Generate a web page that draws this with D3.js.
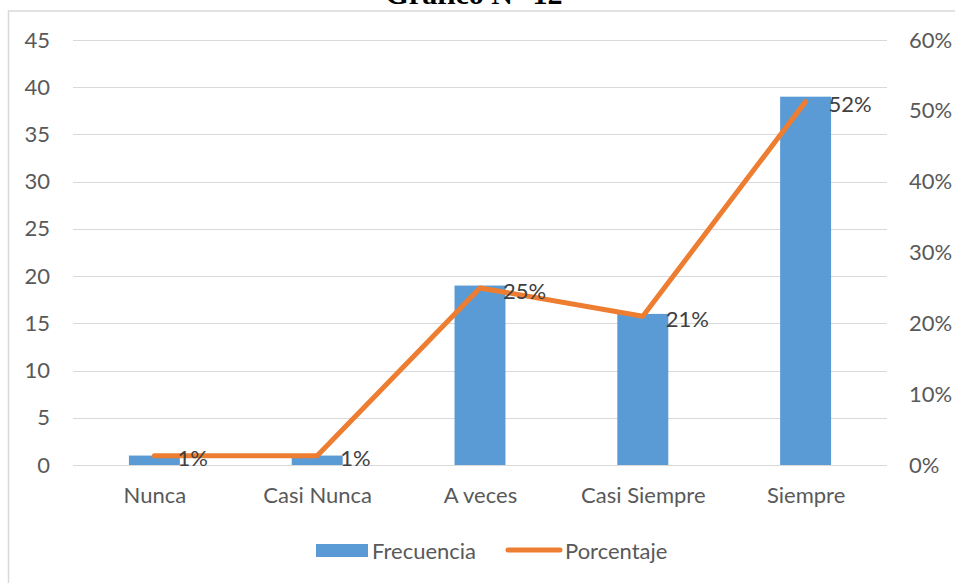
<!DOCTYPE html>
<html>
<head>
<meta charset="UTF-8">
<script src="https://cdn.jsdelivr.net/npm/d3@7"></script>
<style>
body{
    margin:0;
    background-color:#fff;
}
svg text{
    font-family: "Lato", "Liberation Sans", sans-serif;
}
.axis path, .axis line{
    display:none;
}
</style>
</head>
<body>
<script>

var categories = ["Nunca","Casi Nunca","A veces","Casi Siempre","Siempre"];
var frecuencia = [1,1,19,16,39];
var porcentaje = [0.013,0.013,0.25,0.21,0.513];
var pctLabels = ["1%","1%","25%","21%","52%"];
var leftTicks = [0,5,10,15,20,25,30,35,40,45];
var rightTicks = [0,0.1,0.2,0.3,0.4,0.5,0.6];

var width = 955, height = 583;
var plot = {left:73, right:887, top:40, bottom:465};
var fs = 22;

var svg = d3.select("body").append("svg")
    .attr("width",width)
    .attr("height",height);

// chart frame (only left and top edges are in view)
svg.append("path")
    .attr("d","M8.5,583 L8.5,11 L955,11")
    .attr("fill","none")
    .attr("stroke","#d9d9d9")
    .attr("stroke-width",1.5);

// title, cut by the top of the picture like in the source
svg.append("text")
    .attr("x",474)
    .attr("y",4)
    .attr("text-anchor","middle")
    .attr("font-size",30)
    .attr("font-weight","bold")
    .style("font-family",'"Liberation Serif", "Times New Roman", serif')
    .attr("fill","#000")
    .text("Gráfico N° 12");

var x = d3.scaleBand()
    .domain(categories)
    .range([plot.left,plot.right])
    .paddingInner(0.687)
    .paddingOuter(0.3435);

var xc = d3.scalePoint()
    .domain(categories)
    .range([plot.left,plot.right])
    .padding(0.5);

var y = d3.scaleLinear().domain([0,45]).range([plot.bottom,plot.top]);
var y2 = d3.scaleLinear().domain([0,0.6]).range([plot.bottom,plot.top]);

// gridlines
svg.selectAll(".grid")
    .data(leftTicks)
    .enter().append("line")
    .attr("x1",plot.left)
    .attr("x2",plot.right)
    .attr("y1",function(d){ return Math.round(y(d))+0.5; })
    .attr("y2",function(d){ return Math.round(y(d))+0.5; })
    .attr("stroke","#d9d9d9")
    .attr("stroke-width",1);

var yAxis = d3.axisLeft(y).tickValues(leftTicks).tickSize(0).tickPadding(0);
var gY = svg.append("g")
    .attr("class","axis")
    .attr("transform","translate(50,0)")
    .call(yAxis);

var y2Axis = d3.axisRight(y2).tickValues(rightTicks).tickSize(0).tickPadding(0)
    .tickFormat(d3.format(".0%"));
var gY2 = svg.append("g")
    .attr("class","axis")
    .attr("transform","translate(909,0)")
    .call(y2Axis);

var xAxis = d3.axisBottom(xc).tickSize(0).tickPadding(0);
var gX = svg.append("g")
    .attr("class","axis")
    .attr("transform","translate(0,487)")
    .call(xAxis);

svg.selectAll(".axis text")
    .attr("font-size",fs)
    .attr("fill","#595959");

gX.selectAll("text").attr("dy","0.71em");

// bars
svg.selectAll(".bar")
    .data(frecuencia)
    .enter().append("rect")
    .attr("x",function(d,i){ return x(categories[i]); })
    .attr("width",x.bandwidth())
    .attr("y",function(d){ return y(d); })
    .attr("height",function(d){ return y(0) - y(d); })
    .attr("fill","#5b9bd5");

// line
var line = d3.line()
    .x(function(d,i){ return xc(categories[i]); })
    .y(function(d){ return y2(d); });

svg.append("path")
    .datum(porcentaje)
    .attr("d",line)
    .attr("fill","none")
    .attr("stroke","#ed7d31")
    .attr("stroke-width",5)
    .attr("stroke-linecap","round")
    .attr("stroke-linejoin","round");

// data labels
svg.selectAll(".lbl")
    .data(porcentaje)
    .enter().append("text")
    .attr("x",function(d,i){ return xc(categories[i]) + 23; })
    .attr("y",function(d){ return y2(d) + 3; })
    .attr("dy","0.35em")
    .attr("font-size",fs)
    .attr("fill","#404040")
    .text(function(d,i){ return pctLabels[i]; });

// legend
var legend = svg.append("g");
legend.append("rect")
    .attr("x",316).attr("y",544)
    .attr("width",52).attr("height",13)
    .attr("fill","#5b9bd5");
legend.append("text")
    .attr("x",372).attr("y",551).attr("dy","0.35em")
    .attr("font-size",fs).attr("fill","#595959")
    .text("Frecuencia");
legend.append("line")
    .attr("x1",508).attr("x2",560)
    .attr("y1",550).attr("y2",550)
    .attr("stroke","#ed7d31")
    .attr("stroke-width",5)
    .attr("stroke-linecap","round");
legend.append("text")
    .attr("x",565).attr("y",551).attr("dy","0.35em")
    .attr("font-size",fs).attr("fill","#595959")
    .text("Porcentaje");

</script>
</body>
</html>
